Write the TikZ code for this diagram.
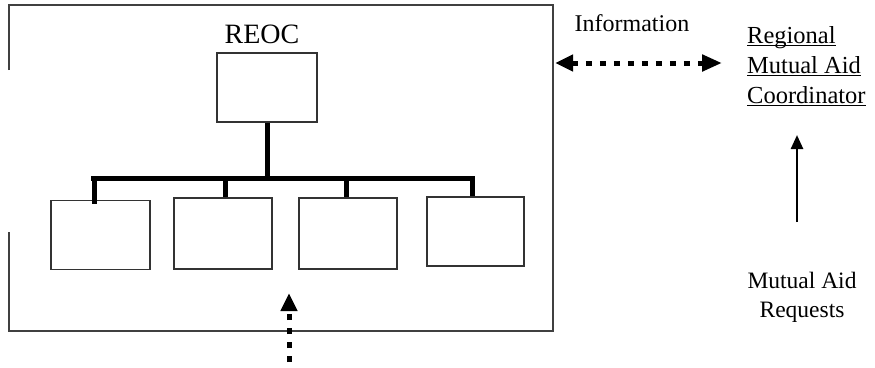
\documentclass[tikz,border=0pt]{standalone}
\usepackage{fontspec}
\setmainfont{Liberation Serif}
\usetikzlibrary{arrows.meta,positioning,calc}
\newcommand{\thickul}[1]{\setbox0\hbox{#1}\rlap{\rule[-3pt]{\wd0}{1.3pt}}\box0}

\begin{document}
\begin{tikzpicture}[x=1pt,y=-1pt,
  unit/.style={draw=black!80,line width=1.3pt,minimum width=99pt,minimum height=70pt,inner sep=0pt},
  tree/.style={line width=5pt},
  frame/.style={draw=black!75,line width=1.3pt},
  dots/.style={line width=5pt,dash pattern=on 6pt off 8pt,-{Triangle[length=18pt,width=16pt]}},
  lbl/.style={inner sep=0pt,align=center}]
      \useasboundingbox (0,0) rectangle (875,367);

      % outer frame, open on the left
      \draw[frame] (9,70) -- (9,5) -- (553,5) -- (553,331) -- (9,331) -- (9,232);

      % REOC chart
      \node[lbl,anchor=base,font=\fontsize{28}{32}\selectfont] (reoc) at (262,43) {REOC};
      \node[unit,minimum width=100pt,minimum height=69pt] (top) at (267,87.5) {};
      \node[unit,minimum height=69pt] (b1) at (100.5,235) {};
      \node[unit,minimum width=98pt,minimum height=71pt] (b2) at (223,233.5) {};
      \node[unit,minimum width=98pt,minimum height=71pt] (b3) at (348,233.5) {};
      \node[unit,minimum width=97pt,minimum height=69pt] (b4) at (475.5,231.5) {};

      \coordinate (barL) at (91,178);
      \coordinate (barR) at (475,178);
      \coordinate (s1) at (94,178);
      \coordinate (s2) at (225,178);
      \coordinate (s3) at (346,178);
      \coordinate (s4) at (472,178);

      \draw[tree] (barL) -- (barR);
      \draw[tree] (top.south) -- (top.south |- barL);
      \draw[tree] (s1) -- ([yshift=-4pt]s1 |- b1.north);
      \draw[tree] (s2) -- (s2 |- b2.north);
      \draw[tree] (s3) -- (s3 |- b3.north);
      \draw[tree] (s4) -- (s4 |- b4.north);

      % right side
      \node[lbl,anchor=base,font=\fontsize{24}{26}\selectfont] (info) at (632,31) {Information};
      \node[lbl,align=left,anchor=north west,font=\fontsize{24.5}{30}\selectfont] (rmac) at (747,26)
        {\thickul{Regional}\\ \thickul{Mutual Aid}\\ \thickul{Coordinator}};
      \node[lbl,anchor=north,font=\fontsize{23.5}{29}\selectfont] (mar) at (802,272) {Mutual Aid\\ Requests};

      \coordinate (infoL) at (555,63);
      \coordinate (infoR) at (722,63);
      \coordinate (marA) at (797,222);
      \coordinate (marB) at (797,135);
      \coordinate (reqA) at (289,362);
      \coordinate (reqB) at (289,293);

      \draw[dots,{Triangle[length=18pt,width=16pt]}-{Triangle[length=20pt,width=16pt]}] (infoL) -- (infoR);
      \draw[line width=2.5pt,-{Triangle[length=14pt,width=12pt]}] (marA) -- (marB);
      \draw[dots] (reqA) -- (reqB);
  \end{tikzpicture}
\end{document}
